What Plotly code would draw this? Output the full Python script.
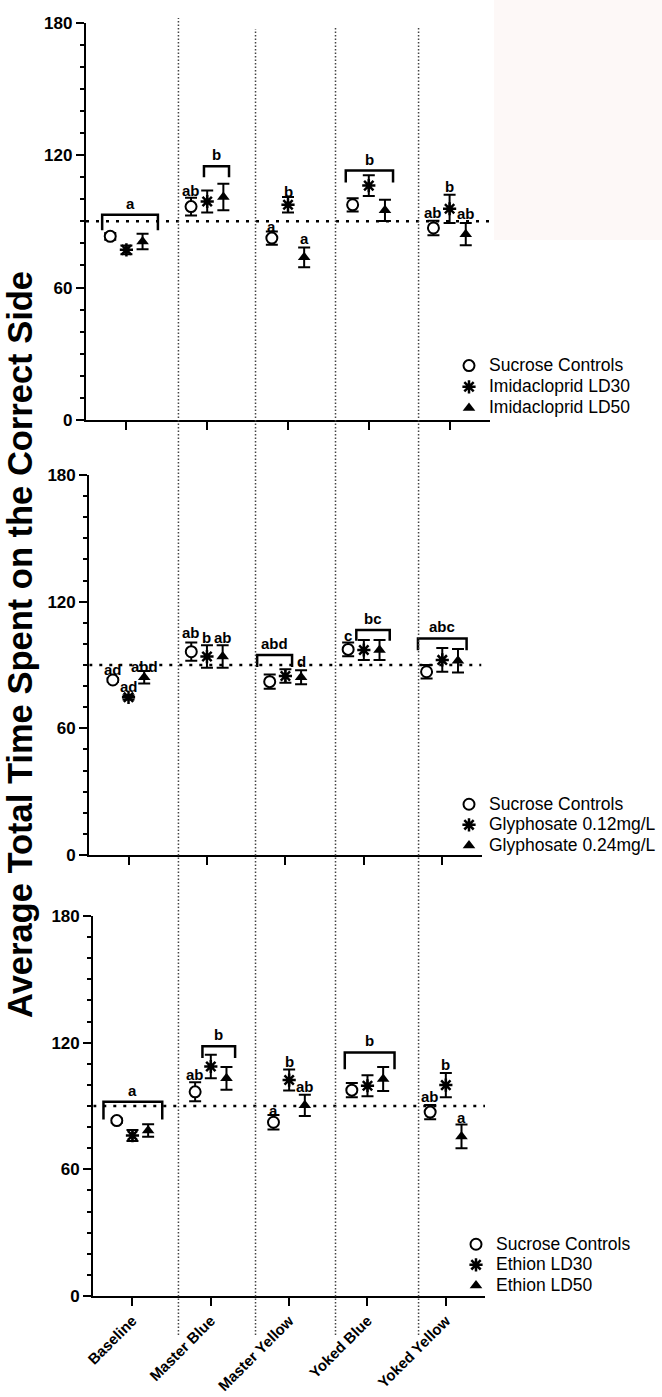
import plotly.graph_objects as go

W, H = 662, 1397
FONT = "Liberation Sans, Arial, sans-serif"

categories = ["Baseline", "Master Blue", "Master Yellow", "Yoked Blue", "Yoked Yellow"]

# Imidacloprid experiment (mean, SEM)
imi_sucrose = [83.2, 96.7, 82.4, 97.5, 87.0]
imi_sucrose_sem = [1.5, 4.0, 3.0, 3.0, 3.3]
imi_ld30 = [77.1, 99.0, 97.5, 106.2, 95.7]
imi_ld30_sem = [2.0, 5.0, 3.5, 4.7, 6.4]
imi_ld50 = [80.9, 101.0, 73.7, 95.0, 84.2]
imi_ld50_sem = [3.5, 6.0, 4.5, 4.8, 5.0]

# Glyphosate experiment (mean, SEM)
gly_sucrose = [82.9, 96.3, 82.1, 97.4, 86.8]
gly_sucrose_sem = [1.0, 4.3, 3.4, 3.3, 3.2]
gly_low = [74.7, 94.0, 84.8, 97.1, 92.4]
gly_low_sem = [1.0, 5.3, 3.2, 4.7, 5.6]
gly_high = [84.2, 94.0, 84.2, 97.1, 92.0]
gly_high_sem = [3.0, 5.3, 3.3, 4.7, 5.6]

# Ethion experiment (mean, SEM)
eth_sucrose = [83.1, 96.7, 82.3, 97.5, 87.1]
eth_sucrose_sem = [1.0, 4.5, 3.4, 3.4, 3.4]
eth_ld30 = [76.0, 108.7, 102.3, 99.6, 99.9]
eth_ld30_sem = [2.6, 5.6, 5.0, 5.0, 5.7]
eth_ld50 = [78.4, 103.1, 90.3, 102.8, 75.6]
eth_ld50_sem = [3.0, 5.4, 5.0, 5.7, 5.6]

y_ticks = [0, 60, 120, 180]
chance_level = 90

series_names = [
    ["Sucrose Controls", "Imidacloprid LD30", "Imidacloprid LD50"],
    ["Sucrose Controls", "Glyphosate 0.12mg/L", "Glyphosate 0.24mg/L"],
    ["Sucrose Controls", "Ethion LD30", "Ethion LD50"],
]
panel_values = [
    [(imi_sucrose, imi_sucrose_sem), (imi_ld30, imi_ld30_sem), (imi_ld50, imi_ld50_sem)],
    [(gly_sucrose, gly_sucrose_sem), (gly_low, gly_low_sem), (gly_high, gly_high_sem)],
    [(eth_sucrose, eth_sucrose_sem), (eth_ld30, eth_ld30_sem), (eth_ld50, eth_ld50_sem)],
]

# significance letters above single points: (category, series, text, y)
point_letters = [
    [(1, 0, "ab", 104.0), (2, 0, "a", 87.6), (2, 1, "b", 103.4), (2, 2, "a", 82.1),
     (4, 0, "ab", 94.0), (4, 1, "b", 105.8), (4, 2, "ab", 93.4)],
    [(0, 0, "ad", 88.1), (0, 1, "ad", 79.7), (0, 2, "abd", 89.5), (1, 0, "ab", 105.2),
     (1, 1, "b", 102.8), (1, 2, "ab", 102.8), (2, 2, "d", 91.6), (3, 0, "c", 104.2)],
    [(1, 0, "ab", 104.7), (2, 0, "a", 87.9), (2, 1, "b", 111.1), (2, 2, "ab", 99.1),
     (4, 0, "ab", 94.3), (4, 1, "b", 109.5), (4, 2, "a", 84.6)],
]
# brackets over grouped points: (category, left, right, top, leg end, text)
bracket_letters = [
    [(0, -0.30, 0.39, 93.0, 86.0, "a"), (1, -0.04, 0.27, 115.0, 110.0, "b"),
     (3, -0.285, 0.30, 113.0, 107.6, "b")],
    [(2, -0.36, 0.085, 94.7, 89.0, "abd"), (3, -0.096, 0.33, 106.6, 101.5, "bc"),
     (4, -0.31, 0.31, 102.6, 97.0, "abc")],
    [(0, -0.37, 0.38, 92.0, 83.6, "a"), (1, -0.107, 0.31, 118.3, 112.7, "b"),
     (3, -0.29, 0.345, 115.4, 107.4, "b")],
]

# panel frames in pixels: (x left, x right, y bottom, y top)
frames = [(86, 490, 420, 22.7), (89.3, 481.5, 855, 475), (93.3, 485, 1296, 916)]
legend_pos = [(449, 350), (449, 789), (456, 1229)]
legend_row = [14, 13.5, 13.5]
offsets = [-0.2, 0.0, 0.2]
symbols = [
    dict(symbol="circle", size=11, color="white", line=dict(width=2, color="black")),
    dict(symbol="asterisk-open", size=11, color="black", line=dict(width=2.5, color="black")),
    dict(symbol="triangle-up", size=11, color="black", line=dict(width=0)),
]

fig = go.Figure()
shapes, annotations = [], []

for p in range(3):
    sfx = "" if p == 0 else str(p + 1)
    xa, ya = "x" + sfx, "y" + sfx
    leg = "legend" + sfx
    for s in range(3):
        vals, sem = panel_values[p][s]
        fig.add_trace(go.Scatter(
            x=[i + offsets[s] for i in range(len(categories))], y=vals,
            mode="markers", name=series_names[p][s], marker=symbols[s],
            error_y=dict(type="data", array=sem, visible=True, color="black",
                         thickness=2, width=6),
            xaxis=xa, yaxis=ya, showlegend=False,
        ))
    # legend entries show only the symbol
    for s in range(3):
        fig.add_trace(go.Scatter(
            x=[None], y=[None], mode="markers", marker=symbols[s],
            name=f"<span style='font-size:17.5px'>{series_names[p][s]}</span>",
            xaxis=xa, yaxis=ya, legend=leg, showlegend=True,
        ))

    xl, xr, yb, yt = frames[p]
    fig.update_layout(**{
        "xaxis" + sfx: dict(
            domain=[xl / W, xr / W], anchor=ya, range=[-0.5, 4.5],
            tickvals=list(range(len(categories))),
            ticktext=categories, showticklabels=(p == 2), tickangle=-45,
            tickfont=dict(family=FONT, size=15, color="black", weight="bold"),
            showline=True, linecolor="black", linewidth=2.3, ticks="outside",
            ticklen=8, tickwidth=2.3, tickcolor="black", showgrid=False, zeroline=False,
            automargin=False,
        ),
        "yaxis" + sfx: dict(
            domain=[1 - yb / H, 1 - yt / H], anchor=xa, range=[0, 180],
            tickvals=y_ticks,
            tickfont=dict(family=FONT, size=17, color="black", weight="bold"),
            showline=True, linecolor="black", linewidth=2.3, ticks="outside",
            ticklen=8, tickwidth=2.3, tickcolor="black", showgrid=False, zeroline=False,
            minor=dict(dtick=10, ticks="outside", ticklen=4, tickwidth=2, tickcolor="black"),
            automargin=False,
        ),
        leg: dict(
            x=legend_pos[p][0] / W, y=1 - legend_pos[p][1] / H, xanchor="left", yanchor="top",
            font=dict(family=FONT, size=legend_row[p], color="black"), bgcolor="rgba(0,0,0,0)",
            borderwidth=0, itemclick=False, itemdoubleclick=False,
        ),
    })

    # chance-level reference line
    shapes.append(dict(type="line", xref=xa, yref=ya, x0=-0.5, x1=4.5,
                       y0=chance_level, y1=chance_level,
                       line=dict(color="black", width=2.5, dash="3px,7px")))

    for cat, s, txt, yv in point_letters[p]:
        annotations.append(dict(x=cat + offsets[s], y=yv, xref=xa, yref=ya, text=txt,
                                showarrow=False, yanchor="middle",
                                font=dict(family=FONT, size=15, color="black", weight="bold")))
    for cat, a, b, top, leg_end, txt in bracket_letters[p]:
        x0, x1 = cat + a, cat + b
        shapes.append(dict(type="path", xref=xa, yref=ya,
                           path=f"M {x0},{leg_end} L {x0},{top} L {x1},{top} L {x1},{leg_end}",
                           line=dict(color="black", width=2.5)))
        annotations.append(dict(x=(x0 + x1) / 2, y=top, xref=xa, yref=ya, text=txt,
                                showarrow=False, yanchor="bottom", yshift=1,
                                font=dict(family=FONT, size=15, color="black", weight="bold")))

# vertical separators between phases (in top-panel category units)
separators = [0.644, 1.598, 2.588, 3.616]
separator_tops = [18, 29, 28, 28]
for xs, top in zip(separators, separator_tops):
    shapes.append(dict(type="line", xref="x", yref="paper", x0=xs, x1=xs,
                       y0=1 - 1335 / H, y1=1 - top / H,
                       line=dict(color="#444444", width=1.5, dash="1.5px,2px")))

# faint tinted block at top right
shapes.append(dict(type="rect", xref="paper", yref="paper", x0=494 / W, x1=1,
                   y0=1 - 240 / H, y1=1, fillcolor="#fdf8f7", line=dict(width=0),
                   layer="below"))

annotations.append(dict(x=20 / W, y=1 - 645 / H, xref="paper", yref="paper",
                        text="Average Total Time Spent on the Correct Side",
                        textangle=-90, showarrow=False, xanchor="center", yanchor="middle",
                        font=dict(family=FONT, size=34.5, color="black", weight="bold")))

fig.update_layout(
    width=W, height=H, margin=dict(l=0, r=0, t=0, b=0, autoexpand=False),
    paper_bgcolor="white", plot_bgcolor="rgba(0,0,0,0)",
    shapes=shapes, annotations=annotations,
)

fig.write_html("out.html")
